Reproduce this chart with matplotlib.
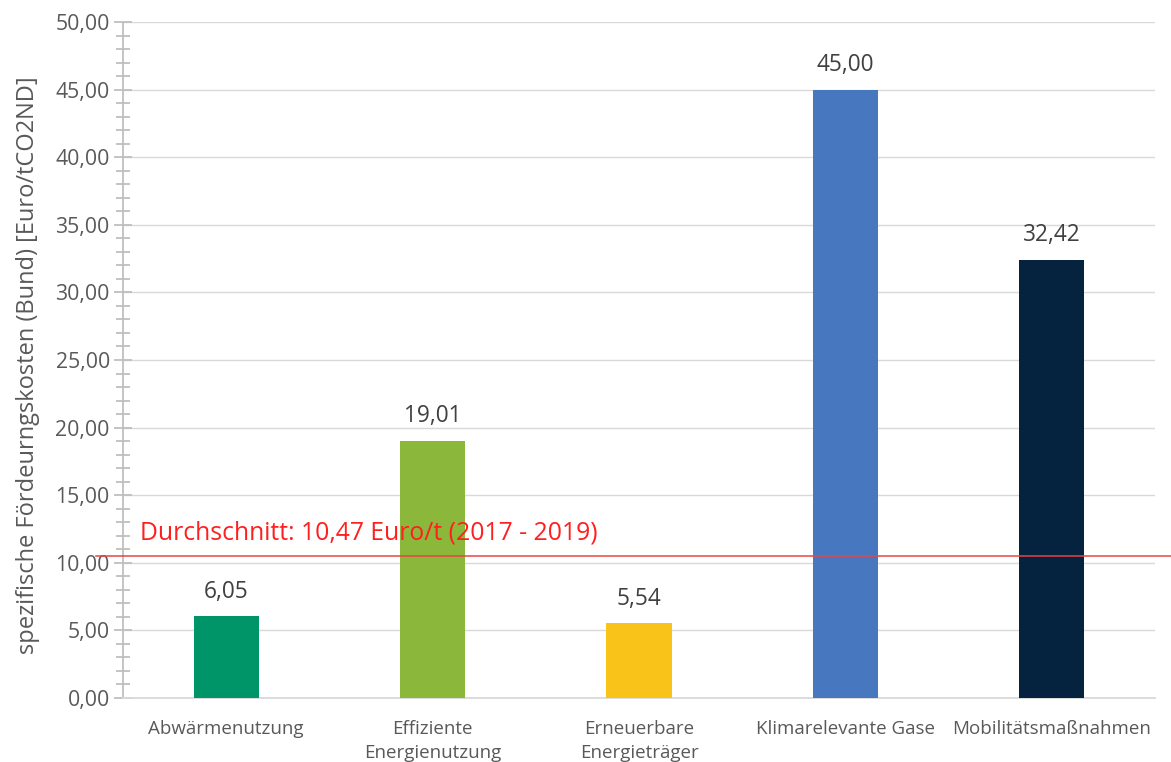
import matplotlib
matplotlib.use("Agg")
import matplotlib.pyplot as plt
from matplotlib.ticker import MultipleLocator, FuncFormatter
from matplotlib.transforms import blended_transform_factory

categories = ["Abwärmenutzung", "Effiziente\nEnergienutzung", "Erneuerbare\nEnergieträger",
              "Klimarelevante Gase", "Mobilitätsmaßnahmen"]
values = [6.05, 19.01, 5.54, 45.00, 32.42]
colors = ["#009469", "#8BB73B", "#F9C31A", "#4677BF", "#05223F"]
average = 10.47
avg_label = "Durchschnitt: 10,47 Euro/t (2017 - 2019)"
ylabel = "spezifische Fördeurngskosten (Bund) [Euro/tCO2ND]"

plt.rcParams['font.family'] = ['Open Sans', 'DejaVu Sans']

fig = plt.figure(figsize=(11.71, 7.62), dpi=100)
ax = fig.add_axes([123/1171, 1-698/762, 1032/1171, (698-22)/762])

x = list(range(len(categories)))
bars = ax.bar(x, values, width=0.315, color=colors, zorder=3)
ax.set_xlim(-0.5, len(categories)-0.5)
ax.set_ylim(0, 50)

fmt = lambda v, p: f"{v:.2f}".replace(".", ",")
ax.yaxis.set_major_locator(MultipleLocator(5))
ax.yaxis.set_minor_locator(MultipleLocator(1))
ax.yaxis.set_major_formatter(FuncFormatter(fmt))
ax.grid(axis='y', which='major', color='#D9D9D9', linewidth=1.0, zorder=0)

for s in ['top', 'right']:
    ax.spines[s].set_visible(False)
ax.spines['left'].set_color('#BFBFBF')
ax.spines['left'].set_linewidth(1.3)
ax.spines['bottom'].set_color('#D9D9D9')
ax.spines['bottom'].set_linewidth(1.3)

ax.tick_params(axis='y', which='major', direction='inout', length=13, width=1.3,
               color='#BFBFBF', labelsize=15.3, labelcolor='#595959', pad=3)
ax.tick_params(axis='y', which='minor', direction='inout', length=10, width=1.3,
               color='#BFBFBF')
ax.tick_params(axis='x', length=0, labelsize=13.5, labelcolor='#595959', pad=16)
ax.set_xticks(x)
ax.set_xticklabels(categories, linespacing=1.4)

ax.set_ylabel(ylabel, fontsize=17, color='#595959', va='center')
ax.yaxis.set_label_coords((28-123)/1032, (698-365)/676)

for xi, v in zip(x, values):
    ax.annotate(fmt(v, None), (xi, v), xytext=(0, 9), textcoords='offset points',
                ha='center', va='bottom', fontsize=16.3, color='#404040')

trans = blended_transform_factory(ax.transAxes, ax.transData)
ax.plot([-0.026, 1.02], [average, average], transform=trans, color='#E84545',
        linewidth=1.1, clip_on=False, zorder=4)
ax.text(17/1032, average + 0.8, avg_label, transform=trans, color='#FF1F1F',
        fontsize=17.8, ha='left', va='bottom')

fig.savefig("out.png", dpi=100)
